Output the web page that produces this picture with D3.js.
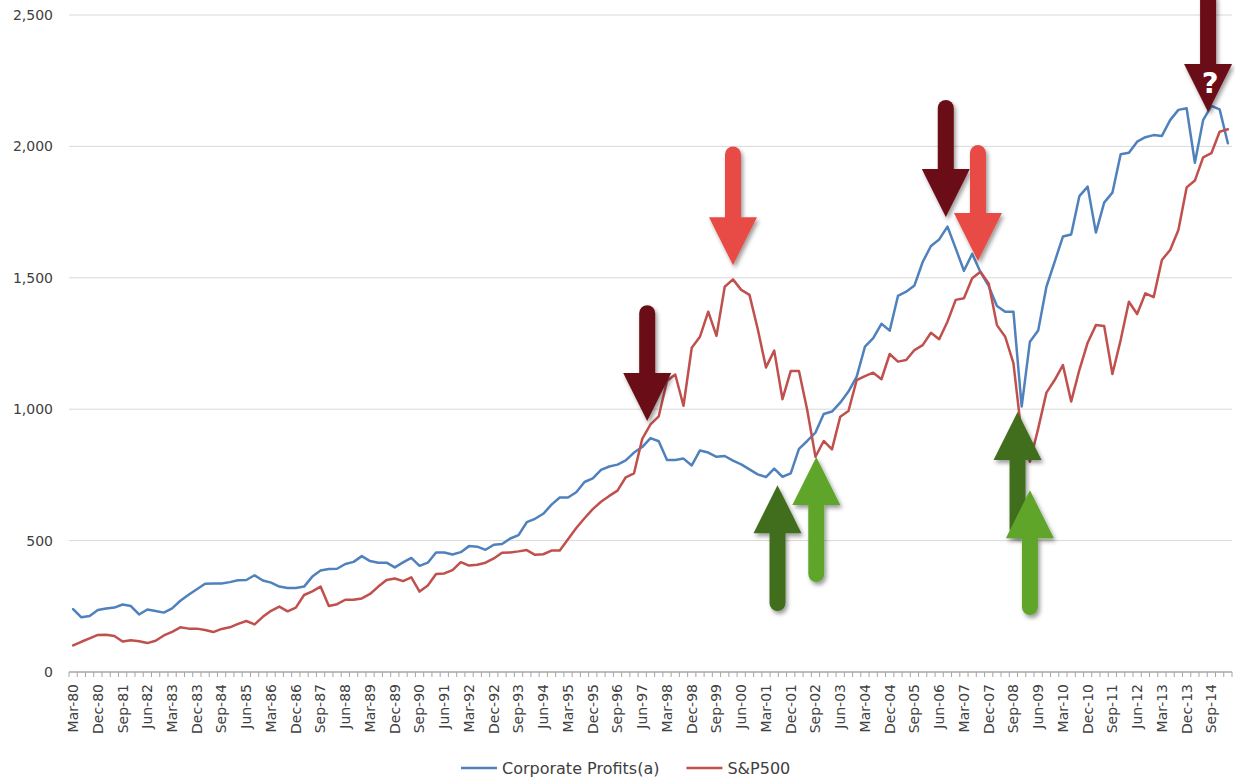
<!DOCTYPE html>
<html>
<head>
<meta charset="utf-8">
<script src="https://cdn.jsdelivr.net/npm/d3@7"></script>
<style>
  html, body { margin: 0; padding: 0; background: #fff; }
  text { font-family: 'DejaVu Sans', sans-serif; fill: #404040; }
</style>
</head>
<body>
<div id="chart"></div>
<script>
(function(d3) {
    'use strict';

    var categories = [
        'Mar-80','Jun-80','Sep-80','Dec-80', 'Mar-81','Jun-81','Sep-81','Dec-81',
        'Mar-82','Jun-82','Sep-82','Dec-82', 'Mar-83','Jun-83','Sep-83','Dec-83',
        'Mar-84','Jun-84','Sep-84','Dec-84', 'Mar-85','Jun-85','Sep-85','Dec-85',
        'Mar-86','Jun-86','Sep-86','Dec-86', 'Mar-87','Jun-87','Sep-87','Dec-87',
        'Mar-88','Jun-88','Sep-88','Dec-88', 'Mar-89','Jun-89','Sep-89','Dec-89',
        'Mar-90','Jun-90','Sep-90','Dec-90', 'Mar-91','Jun-91','Sep-91','Dec-91',
        'Mar-92','Jun-92','Sep-92','Dec-92', 'Mar-93','Jun-93','Sep-93','Dec-93',
        'Mar-94','Jun-94','Sep-94','Dec-94', 'Mar-95','Jun-95','Sep-95','Dec-95',
        'Mar-96','Jun-96','Sep-96','Dec-96', 'Mar-97','Jun-97','Sep-97','Dec-97',
        'Mar-98','Jun-98','Sep-98','Dec-98', 'Mar-99','Jun-99','Sep-99','Dec-99',
        'Mar-00','Jun-00','Sep-00','Dec-00', 'Mar-01','Jun-01','Sep-01','Dec-01',
        'Mar-02','Jun-02','Sep-02','Dec-02', 'Mar-03','Jun-03','Sep-03','Dec-03',
        'Mar-04','Jun-04','Sep-04','Dec-04', 'Mar-05','Jun-05','Sep-05','Dec-05',
        'Mar-06','Jun-06','Sep-06','Dec-06', 'Mar-07','Jun-07','Sep-07','Dec-07',
        'Mar-08','Jun-08','Sep-08','Dec-08', 'Mar-09','Jun-09','Sep-09','Dec-09',
        'Mar-10','Jun-10','Sep-10','Dec-10', 'Mar-11','Jun-11','Sep-11','Dec-11',
        'Mar-12','Jun-12','Sep-12','Dec-12', 'Mar-13','Jun-13','Sep-13','Dec-13',
        'Mar-14','Jun-14','Sep-14','Dec-14', 'Mar-15'
    ];

    var profits = [
        239, 208, 213, 236, 242, 245, 257, 251, 219, 238,
        232, 226, 242, 271, 294, 315, 336, 337, 337, 342,
        349, 350, 368, 348, 340, 325, 320, 320, 325, 363,
        386, 392, 393, 411, 419, 441, 422, 416, 416, 398,
        417, 434, 404, 416, 455, 455, 447, 456, 479, 477,
        465, 484, 487, 508, 521, 570, 583, 602, 637, 664,
        664, 684, 723, 737, 769, 782, 789, 805, 835, 856,
        890, 878, 807, 807, 812, 786, 843, 835, 819, 822,
        804, 790, 771, 752, 742, 774, 743, 756, 849, 879,
        911, 982, 991, 1025, 1067, 1124, 1238, 1270, 1325, 1299,
        1431, 1447, 1471, 1560, 1621, 1646, 1695, 1612, 1527, 1591,
        1522, 1469, 1393, 1371, 1371, 1010, 1257, 1299, 1466, 1561,
        1657, 1665, 1811, 1847, 1672, 1786, 1824, 1970, 1976, 2018,
        2035, 2043, 2040, 2100, 2139, 2145, 1938, 2100, 2154, 2141, 2012
    ];

    var sp500 = [
        101, 115, 128, 141, 142, 137, 116, 121, 117, 110,
        119, 139, 153, 170, 165, 165, 160, 152, 164, 170,
        183, 194, 181, 210, 233, 249, 231, 245, 293, 307,
        325, 251, 258, 275, 275, 280, 297, 325, 350, 356,
        346, 360, 306, 329, 373, 375, 388, 418, 405, 408,
        416, 432, 454, 455, 459, 464, 446, 448, 462, 462,
        505, 548, 585, 620, 648, 670, 690, 741, 756, 887,
        942, 973, 1108, 1132, 1013, 1234, 1276, 1371, 1279, 1466,
        1494, 1454, 1435, 1305, 1159, 1223, 1038, 1145, 1145, 997,
        819, 879, 847, 971, 993, 1111, 1126, 1139, 1114, 1210,
        1181, 1187, 1225, 1244, 1291, 1266, 1333, 1416, 1422, 1498,
        1523, 1478, 1320, 1276, 1175, 903, 800, 926, 1063, 1111,
        1168, 1029, 1150, 1253, 1320, 1317, 1134, 1263, 1409, 1362,
        1441, 1426, 1568, 1606, 1682, 1844, 1870, 1958, 1974, 2056, 2065
    ];

    var yTicks = [0, 500, 1000, 1500, 2000, 2500];
    var seriesNames = ['Corporate Profits(a)', 'S&P500'];

    // annotation arrows: quarter index, tip value, tail value, colour
    var arrows = [
        { at: 69.6,  tip: 955,  tail: 1396, color: '#6b0f14' },
        { at: 80.0,  tip: 1548, tail: 2000, color: '#e84c44' },
        { at: 105.8, tip: 1731, tail: 2177, color: '#6b0f14' },
        { at: 109.7, tip: 1564, tail: 2005, color: '#e84c44' },
        { at: 137.6, tip: 2131, tail: 2590, color: '#6b0f14' },
        { at: 85.4,  tip: 711,  tail: 232,  color: '#406e1c' },
        { at: 90.1,  tip: 818,  tail: 342,  color: '#5ea52a' },
        { at: 114.5, tip: 989,  tail: 514,  color: '#406e1c' },
        { at: 116.0, tip: 692,  tail: 217,  color: '#5ea52a' }
    ];

    var width = 1235,
        height = 780;

    var colors = ['#4f81bd', '#c0504d'];

    var x = d3.scaleBand()
        .domain(categories)
        .range([69, 1232])
        .padding(0);

    var y = d3.scaleLinear()
        .domain([0, 2500])
        .range([672, 15]);

    function xAt(i) {
        return x.range()[0] + (i + 0.5) * x.step();
    }

    var svg = d3.select('#chart').append('svg')
        .attr('width', width)
        .attr('height', height);

    var defs = svg.append('defs');
    defs.append('filter')
        .attr('id', 'shadow')
        .attr('x', '-50%').attr('y', '-50%')
        .attr('width', '200%').attr('height', '200%')
        .append('feDropShadow')
        .attr('dx', 2)
        .attr('dy', 3)
        .attr('stdDeviation', 2.2)
        .attr('flood-color', '#000')
        .attr('flood-opacity', 0.4);

    // gridlines
    svg.append('g')
        .selectAll('line')
        .data(yTicks.filter(function(d) { return d > 0; }))
        .enter()
        .append('line')
        .attr('x1', x.range()[0])
        .attr('x2', x.range()[1])
        .attr('y1', function(d) { return y(d); })
        .attr('y2', function(d) { return y(d); })
        .attr('stroke', '#d9d9d9')
        .attr('stroke-width', 1);

    // y axis labels
    var yAxis = svg.append('g')
        .attr('transform', 'translate(57,0)')
        .call(d3.axisLeft(y).tickValues(yTicks).tickSize(0).tickPadding(4).tickFormat(d3.format(',')));
    yAxis.select('.domain').remove();
    yAxis.selectAll('text')
        .style('font-size', '14px')
        .style('fill', '#404040');

    // x axis line and quarter ticks
    var xAxisG = svg.append('g');
    xAxisG.append('line')
        .attr('x1', x.range()[0])
        .attr('x2', x.range()[1])
        .attr('y1', y(0))
        .attr('y2', y(0))
        .attr('stroke', '#a6a6a6')
        .attr('stroke-width', 1.5);

    xAxisG.selectAll('.qtick')
        .data(categories.concat(['end']))
        .enter()
        .append('line')
        .attr('class', 'qtick')
        .attr('x1', function(d, i) { return x.range()[0] + i * x.step(); })
        .attr('x2', function(d, i) { return x.range()[0] + i * x.step(); })
        .attr('y1', y(0))
        .attr('y2', y(0) + 5)
        .attr('stroke', '#a6a6a6')
        .attr('stroke-width', 1);

    var xAxis = svg.append('g')
        .attr('transform', 'translate(0,' + y(0) + ')')
        .call(d3.axisBottom(x)
            .tickValues(categories.filter(function(d, i) { return i % 3 === 0; }))
            .tickSize(0));
    xAxis.select('.domain').remove();
    xAxis.selectAll('text')
        .style('font-size', '14px')
        .style('fill', '#404040')
        .style('text-anchor', 'end')
        .attr('x', -12)
        .attr('y', 0)
        .attr('dy', '0.35em')
        .attr('transform', 'rotate(-90)');

    // series lines
    var line = d3.line()
        .x(function(d, i) { return x(categories[i]) + x.bandwidth() / 2; })
        .y(function(d) { return y(d); });

    [profits, sp500].forEach(function(series, k) {
        svg.append('path')
            .datum(series)
            .attr('d', line)
            .attr('fill', 'none')
            .attr('stroke', colors[k])
            .attr('stroke-width', 2.5)
            .attr('stroke-linejoin', 'round')
            .attr('stroke-linecap', 'round');
    });

    // arrows
    var headLen = 48,
        headHalf = 24,
        shaftW = 16;

    arrows.forEach(function(a) {
        var cx = xAt(a.at),
            tipY = y(a.tip),
            tailY = y(a.tail),
            s = tailY < tipY ? -1 : 1,
            baseY = tipY + s * headLen;

        var g = svg.append('g').attr('filter', 'url(#shadow)');
        g.append('line')
            .attr('x1', cx).attr('x2', cx)
            .attr('y1', baseY)
            .attr('y2', tailY - s * shaftW / 2)
            .attr('stroke', a.color)
            .attr('stroke-width', shaftW)
            .attr('stroke-linecap', 'round');
        g.append('path')
            .attr('d', 'M' + cx + ',' + tipY +
                'L' + (cx - headHalf) + ',' + baseY +
                'L' + (cx + headHalf) + ',' + baseY + 'Z')
            .attr('fill', a.color);
    });

    svg.append('text')
        .attr('x', xAt(137.85))
        .attr('y', y(2203))
        .attr('text-anchor', 'middle')
        .style('font-size', '29px')
        .style('font-weight', 'bold')
        .style('fill', '#ffffff')
        .text('?');

    // legend
    var legend = svg.append('g').attr('transform', 'translate(461,768)');
    var offset = 0;
    seriesNames.forEach(function(name, k) {
        var item = legend.append('g').attr('transform', 'translate(' + offset + ',0)');
        item.append('line')
            .attr('x1', 0).attr('x2', 36)
            .attr('y1', 0).attr('y2', 0)
            .attr('stroke', colors[k])
            .attr('stroke-width', 2.5);
        var t = item.append('text')
            .attr('x', 41)
            .attr('y', 0)
            .attr('dy', '0.35em')
            .style('font-size', '16px')
            .style('fill', '#404040')
            .text(name);
        offset += 41 + t.node().getComputedTextLength() + 27;
    });

})(window.d3);
</script>
</body>
</html>
